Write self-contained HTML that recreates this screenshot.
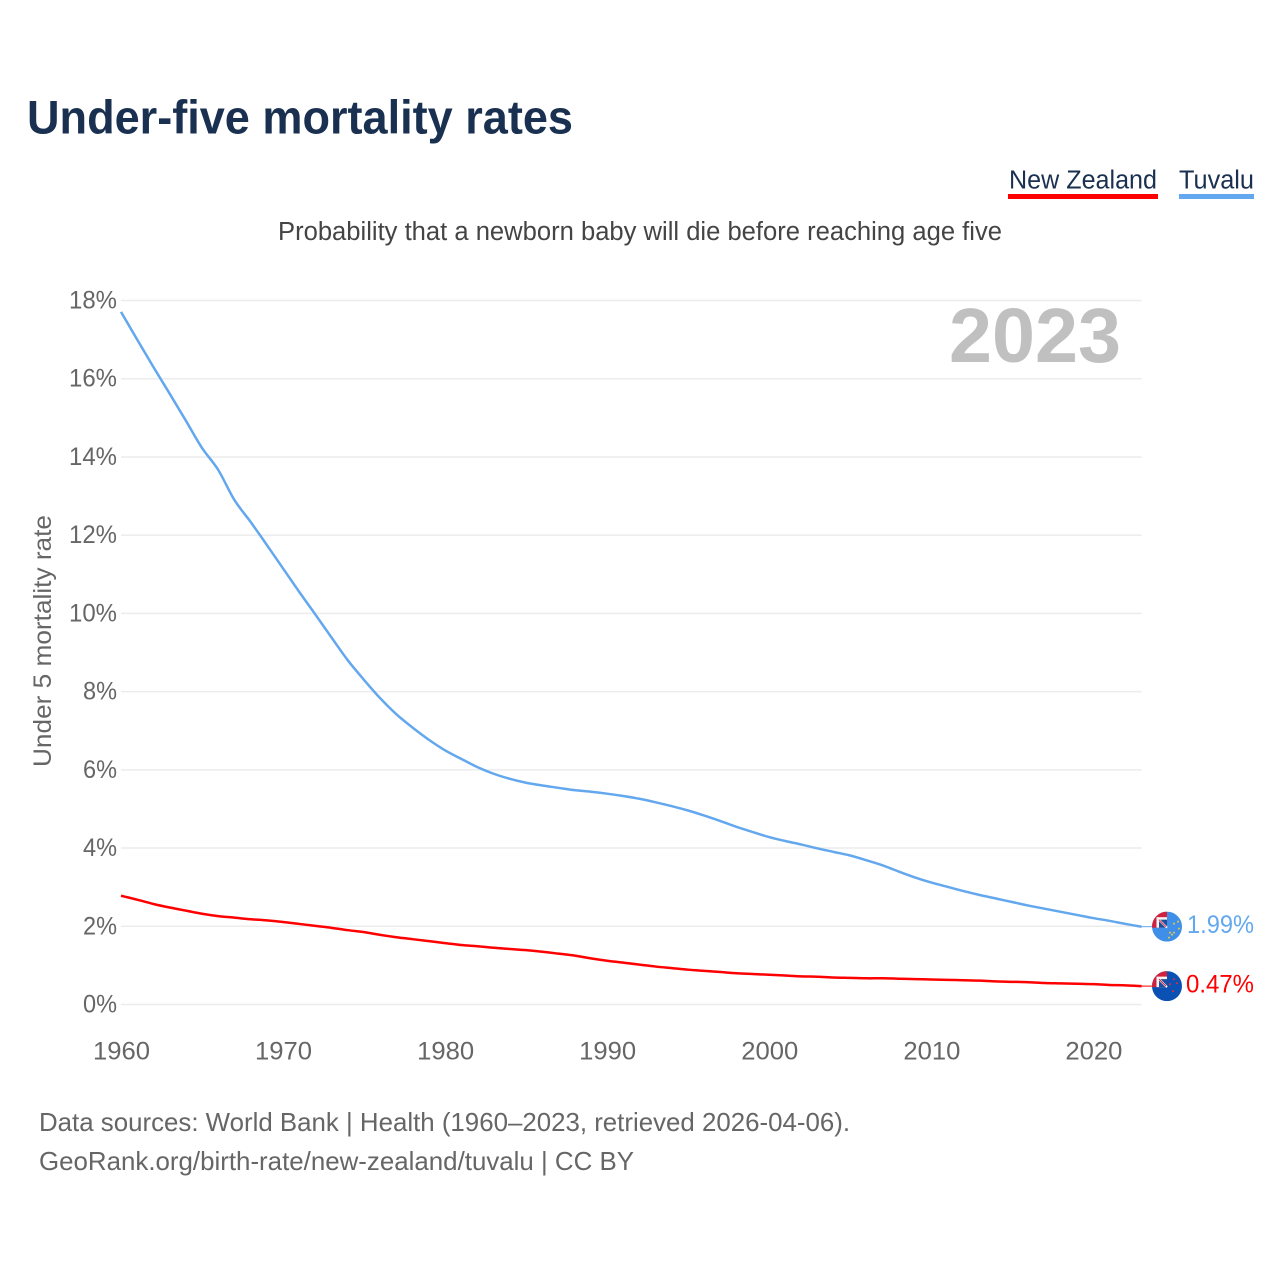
<!DOCTYPE html>
<html lang="en">
<head>
<meta charset="utf-8">
<title>Under-five mortality rates</title>
<style>
html,body{margin:0;padding:0;background:#fff;}
svg{display:block;font-family:"Liberation Sans",sans-serif;}
</style>
</head>
<body>
<svg id="chart" xmlns="http://www.w3.org/2000/svg" width="1280" height="1280" viewBox="0 0 1280 1280">
  <defs>
    <clipPath id="flag-clip"><circle cx="0" cy="0" r="15"></circle></clipPath>
  </defs>
  <rect x="0" y="0" width="1280" height="1280" fill="#fff"></rect>
  <text x="27" y="133.5" font-size="47" font-weight="700" fill="#1a3050" textLength="546" lengthAdjust="spacingAndGlyphs">Under-five mortality rates</text>

  <g>
    <text x="1009" y="188.5" font-size="25.5" fill="#1a3050" textLength="148" lengthAdjust="spacingAndGlyphs">New Zealand</text>
    <rect x="1008" y="194" width="150" height="5" fill="#ff0000"></rect>
  </g>
  <g>
    <text x="1179" y="188.5" font-size="25.5" fill="#1a3050" textLength="75" lengthAdjust="spacingAndGlyphs">Tuvalu</text>
    <rect x="1179" y="194" width="75" height="5" fill="#63a8ee"></rect>
  </g>

  <text x="278" y="240" font-size="25.5" fill="#444" textLength="724" lengthAdjust="spacingAndGlyphs">Probability that a newborn baby will die before reaching age five</text>

  <g id="grid"></g>
  <g id="y-ticks"></g>
  <g id="x-ticks"></g>

  <text transform="translate(51,767) rotate(-90)" x="0" y="0" font-size="25" fill="#666" textLength="252" lengthAdjust="spacingAndGlyphs">Under 5 mortality rate</text>
  <text x="949" y="362" font-size="77" font-weight="700" fill="#c0c0c0" textLength="172" lengthAdjust="spacingAndGlyphs">2023</text>

  <g id="series"></g>

  <text x="39" y="1131" font-size="26" fill="#666" textLength="811" lengthAdjust="spacingAndGlyphs">Data sources: World Bank | Health (1960–2023, retrieved 2026-04-06).</text>
  <text x="39" y="1170" font-size="26" fill="#666" textLength="595" lengthAdjust="spacingAndGlyphs">GeoRank.org/birth-rate/new-zealand/tuvalu | CC BY</text>
</svg>

<script>
const startYear = 1960;
const endYear = 2023;
const xTickYears = [1960, 1970, 1980, 1990, 2000, 2010, 2020];
const yTickValues = [0, 2, 4, 6, 8, 10, 12, 14, 16, 18];
const tuvaluValues = [17.71, 17.0, 16.3, 15.62, 14.93, 14.23, 13.67, 12.9, 12.34, 11.75, 11.15, 10.55, 9.97, 9.38, 8.8, 8.3, 7.83, 7.42, 7.08, 6.77, 6.5, 6.28, 6.07, 5.9, 5.77, 5.67, 5.6, 5.54, 5.48, 5.44, 5.39, 5.33, 5.26, 5.17, 5.07, 4.96, 4.83, 4.69, 4.54, 4.41, 4.28, 4.18, 4.09, 3.99, 3.9, 3.81, 3.69, 3.56, 3.4, 3.25, 3.12, 3.01, 2.9, 2.8, 2.71, 2.62, 2.53, 2.45, 2.37, 2.29, 2.21, 2.14, 2.06, 1.99];
const newZealandValues = [2.78, 2.68, 2.57, 2.48, 2.4, 2.32, 2.26, 2.22, 2.18, 2.15, 2.11, 2.06, 2.01, 1.96, 1.9, 1.85, 1.78, 1.72, 1.67, 1.62, 1.57, 1.52, 1.49, 1.45, 1.42, 1.39, 1.35, 1.3, 1.25, 1.18, 1.12, 1.07, 1.02, 0.97, 0.93, 0.89, 0.86, 0.83, 0.8, 0.78, 0.76, 0.74, 0.72, 0.71, 0.69, 0.68, 0.67, 0.67, 0.66, 0.65, 0.64, 0.63, 0.62, 0.61, 0.59, 0.58, 0.57, 0.55, 0.54, 0.53, 0.52, 0.5, 0.49, 0.47];

const NS = 'http://www.w3.org/2000/svg';
function xScale(year) { return 121 + (year - startYear) * (1141.7 - 121) / (endYear - startYear); }
function yScale(value) { return 1004.5 - value * (704 / 18); }
function make(tag, attrs, parent) {
  const el = document.createElementNS(NS, tag);
  for (const k in attrs) el.setAttribute(k, attrs[k]);
  parent.appendChild(el);
  return el;
}

const gridGroup = document.getElementById('grid');
const yTickGroup = document.getElementById('y-ticks');
const xTickGroup = document.getElementById('x-ticks');
const seriesGroup = document.getElementById('series');

yTickValues.forEach(function (v) {
  const line = make('line', { x1: 121, x2: 1141.7, y1: yScale(v), y2: yScale(v), stroke: '#ececec', 'stroke-width': 1.5 }, gridGroup);
  
  
  const label = make('text', { x: 117, y: yScale(v) + 8, 'text-anchor': 'end', 'font-size': 25, fill: '#666', textLength: v >= 10 ? 48 : 34, lengthAdjust: 'spacingAndGlyphs' }, yTickGroup);
  
  
  label.textContent = v + '%';
});

xTickYears.forEach(function (yr) {
  const label = make('text', { x: xScale(yr) + (yr - startYear) * 0.005 + 0.5, y: 1059.5, 'text-anchor': 'middle', 'font-size': 25, fill: '#666', textLength: 57, lengthAdjust: 'spacingAndGlyphs' }, xTickGroup);
  
  
  label.textContent = yr;
});

function linePath(values) {
  const pts = values.map(function (v, i) { return [xScale(startYear + i), yScale(v)]; });
  let d = 'M' + pts[0][0].toFixed(2) + ' ' + pts[0][1].toFixed(2);
  for (let i = 0; i < pts.length - 1; i++) {
    const p0 = pts[Math.max(i - 1, 0)];
    const p1 = pts[i];
    const p2 = pts[i + 1];
    const p3 = pts[Math.min(i + 2, pts.length - 1)];
    const c1x = p1[0] + (p2[0] - p0[0]) / 6;
    const c1y = p1[1] + (p2[1] - p0[1]) / 6;
    const c2x = p2[0] - (p3[0] - p1[0]) / 6;
    const c2y = p2[1] - (p3[1] - p1[1]) / 6;
    d += ' C' + c1x.toFixed(2) + ' ' + c1y.toFixed(2) + ' ' + c2x.toFixed(2) + ' ' + c2y.toFixed(2) + ' ' + p2[0].toFixed(2) + ' ' + p2[1].toFixed(2);
  }
  return d;
}

function drawFlag(parent, cy, field, canton, starColor, starSpots) {
  const g = make('g', { transform: 'translate(1167,' + cy.toFixed(2) + ')', 'clip-path': 'url(#flag-clip)' }, parent);
  make('rect', { x: -15, y: -15, width: 30, height: 30, fill: field }, g);
  make('rect', { x: -15, y: -15, width: 15, height: 16, fill: '#d3203c' }, g);
  make('rect', { x: -10.5, y: -9.5, width: 10.5, height: 10.5, fill: '#f4f4f4' }, g);
  make('rect', { x: -8, y: -7, width: 8, height: 8, fill: canton }, g);
  make('path', { d: 'M-8.5-7.5 L0 1', stroke: '#f4f4f4', 'stroke-width': 2, fill: 'none' }, g);
  make('path', { d: 'M-8-7 L-1 0', stroke: '#d3203c', 'stroke-width': 0.9, fill: 'none' }, g);
  starSpots.forEach(function (s) {
    make('circle', { cx: s[0], cy: s[1], r: 1, fill: starColor }, g);
  });
  return g;
}

const seriesList = [
  { key: 'tuvalu', values: tuvaluValues, color: '#63a8ee', field: '#3f8fe9', canton: '#1f4e9c', star: '#e7c64a',
    stars: [[11, -5], [7, -3], [12, 2], [7, 6], [3, 6], [5, 8], [2, 11]], labelX: 1187 },
  { key: 'new-zealand', values: newZealandValues, color: '#ff0000', field: '#0b51b4', canton: '#1f4e9c', star: '#e02b3c',
    stars: [[7, -7], [10, -3], [3, -2], [6, 5]], labelX: 1186 }
];

seriesList.forEach(function (s) {
  const last = s.values[s.values.length - 1];
  const ly = yScale(last);
  const path = make('path', { d: linePath(s.values), fill: 'none', stroke: s.color, 'stroke-width': 2.5, 'stroke-linejoin': 'round', 'stroke-linecap': 'butt' }, seriesGroup);
  
  
  const conn = make('line', { x1: xScale(endYear), x2: 1152, y1: ly, y2: ly, stroke: s.color, 'stroke-width': 1 }, seriesGroup);
  
  
  const flag = drawFlag(seriesGroup, ly, s.field, s.canton, s.star, s.stars);
  
  
  const label = make('text', { x: s.labelX, y: ly + 6.5, 'font-size': 25, fill: s.color, textLength: 1254 - s.labelX, lengthAdjust: 'spacingAndGlyphs' }, seriesGroup);
  
  
  label.textContent = last.toFixed(2) + '%';
});
</script>
</body>
</html>
